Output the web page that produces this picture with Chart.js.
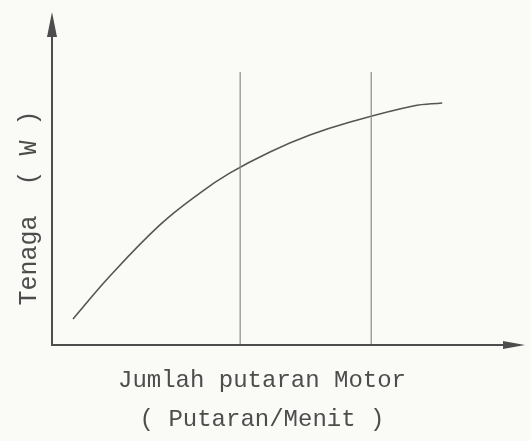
<!DOCTYPE html>
<html>
<head>
<meta charset="utf-8">
<script src="https://cdn.jsdelivr.net/npm/chart.js@4.4.1/dist/chart.umd.min.js"></script>
<style>
    html, body { margin: 0; padding: 0; background: #fafaf7; }
    #wrap { width: 531px; height: 441px; }
</style>
</head>
<body>
<div id="wrap"><canvas id="powerChart"></canvas></div>
<script>

//  ==================== DATA ====================
// motor speed (relative units) vs power (relative units)
const rpm   = [5.0, 13.8, 25.7, 35.2, 42.4, 51.9, 61.4, 71.0, 86.0, 92.9];
const power = [9.2, 25.0, 43.8, 55.5, 62.9, 70.6, 76.8, 81.6, 87.5, 88.6];

// vertical reference lines
const markRpm = [44.8, 76.0];
const markTop = 100;

const xTitle = ['Jumlah putaran Motor', '( Putaran/Menit )'];
const yTitle = 'Tenaga  ( W )';

const inkColor = '#4d4d4d';
const fontFamily = '"Liberation Mono", "DejaVu Sans Mono", monospace';


//  ==================== AXES WITH ARROWS ====================
const arrowAxes = {
    id: 'arrowAxes',
    afterDraw(chart){
        let ctx = chart.ctx;
        let area = chart.chartArea;
        let x0 = area.left, y0 = area.bottom + 1;
        let yTip = area.top - 60;
        let xTip = area.right + 53;

        ctx.save();
        ctx.strokeStyle = inkColor;
        ctx.fillStyle = inkColor;
        ctx.lineWidth = 2;

        ctx.beginPath();
        ctx.moveTo(x0, y0);
        ctx.lineTo(x0, yTip + 10);
        ctx.moveTo(x0 - 1, y0);
        ctx.lineTo(xTip - 10, y0);
        ctx.stroke();

        // y arrow head
        ctx.beginPath();
        ctx.moveTo(x0, yTip);
        ctx.lineTo(x0 - 5, yTip + 25);
        ctx.lineTo(x0 + 5, yTip + 25);
        ctx.closePath();
        ctx.fill();

        // x arrow head
        ctx.beginPath();
        ctx.moveTo(xTip, y0);
        ctx.lineTo(xTip - 22, y0 - 4);
        ctx.lineTo(xTip - 22, y0 + 4);
        ctx.closePath();
        ctx.fill();
        ctx.restore();
    }
};


//  ==================== CHART ====================
let markSets = markRpm.map(function(x){
    return {
        data: [{x: x, y: 0}, {x: x, y: markTop}],
        borderColor: '#8a8a8a',
        borderWidth: 1.2,
        pointRadius: 0,
        fill: false
    };
});

let curve = {
    data: rpm.map(function(x, i){ return {x: x, y: power[i]}; }),
    borderColor: '#555555',
    borderWidth: 1.6,
    pointRadius: 0,
    tension: 0.4,
    fill: false
};

let powerChart = new Chart(document.getElementById('powerChart'), {
    type: 'line',
    data: { datasets: markSets.concat([curve]) },
    options: {
        responsive: true,
        maintainAspectRatio: false,
        animation: false,
        layout: { padding: { top: 72, right: 59, left: 0, bottom: 0 } },
        plugins: { legend: { display: false }, tooltip: { enabled: false } },
        scales: {
            x: {
                type: 'linear',
                min: 0,
                max: 100,
                grid: { display: false, drawTicks: false, tickLength: 0 },
                border: { display: false },
                ticks: { display: false },
                title: {
                    display: true,
                    text: xTitle,
                    color: inkColor,
                    font: { family: fontFamily, size: 24, lineHeight: 1.625 },
                    padding: { top: 17.5, bottom: 1.5 }
                }
            },
            y: {
                min: 0,
                max: 100,
                grid: { display: false, drawTicks: false, tickLength: 0 },
                border: { display: false },
                ticks: { display: false },
                title: {
                    display: true,
                    text: yTitle,
                    color: inkColor,
                    font: { family: fontFamily, size: 25, lineHeight: 1.2 },
                    padding: { top: 14, bottom: 8 }
                }
            }
        }
    },
    plugins: [arrowAxes]
});

</script>
</body>
</html>
